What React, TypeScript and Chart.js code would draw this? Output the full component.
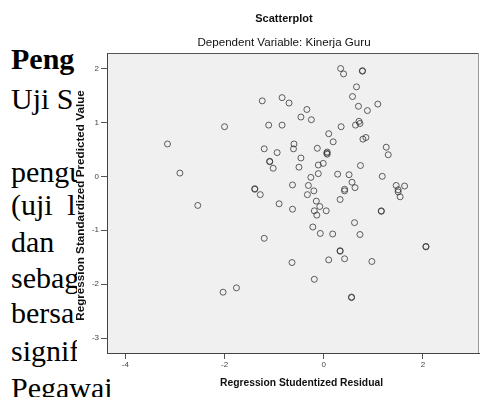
import React, { useEffect, useRef } from "react";
import { Chart, registerables } from "chart.js";

Chart.register(...registerables);

// Regression Studentized Residual (x) for each case
const residuals = [
  0.34, 0.40, 0.78, 0.78, 0.66, 0.58, -1.24, -0.84, -0.70, 0.70, 0.88, 1.09, -0.34, -0.46, -0.25,
  -2.00, -1.11, -0.84, 0.35, 0.64, 0.71, 0.73, 0.10, 0.19, 0.79, 0.85, -3.15, -2.90, -2.54, -1.20,
  -0.94, -0.60, -0.61, -0.13, 0.07, 0.07, 0.06, 1.26, 1.30, -1.09, -1.09, -1.02, -0.46, -0.50, -0.11,
  -0.01, -0.11, 0.74, -0.26, 0.28, 0.51, 0.57, 0.63, 1.18, -1.39, -1.39, -1.28, -0.63, -0.31, -0.20,
  -0.33, 0.42, 0.42, 0.33, 1.46, 1.63, 1.50, 1.50, 1.54, -0.90, -0.63, -0.15, -0.08, -0.19, -0.14,
  0.05, 1.16, 1.16, 0.62, -0.22, -0.07, 0.18, 0.73, -1.20, 0.33, 0.33, 2.06, 2.06, -0.64, 0.10,
  0.42, 0.97, -0.19, -2.03, -1.76, 0.56, 0.56,
];

// Regression Standardized Predicted Value (y) for each case
const predicted = [
  2.00, 1.90, 1.96, 1.95, 1.66, 1.48, 1.40, 1.46, 1.36, 1.30, 1.22, 1.34, 1.24, 1.10, 1.05,
  0.92, 0.95, 0.95, 0.92, 0.95, 1.02, 0.98, 0.79, 0.64, 0.69, 0.72, 0.60, 0.06, -0.54, 0.51,
  0.44, 0.60, 0.51, 0.52, 0.45, 0.41, 0.43, 0.54, 0.40, 0.28, 0.27, 0.15, 0.34, 0.17, 0.21,
  0.24, 0.05, 0.20, -0.02, 0.04, 0.03, -0.11, -0.21, 0.00, -0.23, -0.24, -0.34, -0.16, -0.17, -0.27,
  -0.34, -0.24, -0.27, -0.43, -0.17, -0.18, -0.25, -0.29, -0.38, -0.51, -0.61, -0.46, -0.56, -0.64, -0.72,
  -0.64, -0.64, -0.65, -0.86, -0.94, -1.06, -1.07, -1.08, -1.15, -1.38, -1.39, -1.30, -1.31, -1.60, -1.55,
  -1.53, -1.58, -1.91, -2.15, -2.07, -2.24, -2.25,
];

const chartTitle = "Scatterplot";
const chartSubtitle = "Dependent Variable: Kinerja Guru";
const xAxisTitle = "Regression Studentized Residual";
const yAxisTitle = "Regression Standardized Predicted Value";
const xRange = [-4.37, 3.13];
const yRange = [-3.278, 2.288];

// Surrounding document text (partly hidden behind the chart picture)
const docLines = ["Peng", "Uji S", "pengu", "(uji l", "dan", "sebag", "bersa", "signif", "Pegawai"];
const docBaselines = [69, 109, 182, 215, 251.5, 288, 323, 361, 398];

const SANS = '"Liberation Sans", Arial, sans-serif';

const paperPlugin = {
  id: "paper",
  beforeDraw(chart: any) {
    const { ctx, chartArea: a } = chart;
    ctx.save();
    ctx.fillStyle = "#ffffff";
    ctx.beginPath();
    ctx.moveTo(77, 4);
    ctx.lineTo(483, 4);
    ctx.lineTo(483, 397);
    ctx.lineTo(121, 397);
    ctx.lineTo(121, 372);
    ctx.lineTo(77, 372);
    ctx.closePath();
    ctx.fill();
    ctx.fillStyle = "#f0f0f0";
    ctx.fillRect(a.left, a.top, a.right - a.left, a.bottom - a.top);
    ctx.restore();
  },
  afterDraw(chart: any) {
    const { ctx, chartArea: a } = chart;
    ctx.save();
    ctx.strokeStyle = "#555";
    ctx.lineWidth = 1;
    ctx.beginPath();
    ctx.moveTo(a.left, a.top + 0.5);
    ctx.lineTo(a.right, a.top + 0.5);
    ctx.stroke();
    ctx.strokeStyle = "#999";
    ctx.beginPath();
    ctx.moveTo(a.right - 0.5, a.top);
    ctx.lineTo(a.right - 0.5, a.bottom);
    ctx.stroke();

    ctx.fillStyle = "#111";
    ctx.textAlign = "center";
    ctx.textBaseline = "middle";
    ctx.font = `bold 11px ${SANS}`;
    ctx.fillText(chartTitle, 284, 19);
    ctx.font = `11.6px ${SANS}`;
    ctx.fillText(chartSubtitle, 284, 43);
    ctx.font = `bold 10.3px ${SANS}`;
    ctx.fillText(xAxisTitle, 301.5, 383);
    ctx.translate(80.5, 205.5);
    ctx.rotate(-Math.PI / 2);
    ctx.font = `bold 11.7px ${SANS}`;
    ctx.fillText(yAxisTitle, 0, 0);
    ctx.restore();
  },
};

export default function App() {
  const ref = useRef<HTMLCanvasElement | null>(null);

  useEffect(() => {
    if (!ref.current) return;
    const points = residuals.map((x, i) => ({ x, y: predicted[i] }));
    const tickFont = { family: SANS, size: 8 };
    const chart = new Chart(ref.current, {
      type: "scatter",
      data: {
        datasets: [
          {
            data: points,
            pointStyle: "circle",
            pointRadius: 3,
            pointHoverRadius: 3,
            pointBorderWidth: 1,
            borderColor: "rgba(45,45,45,0.75)",
            backgroundColor: "rgba(0,0,0,0)",
          },
        ],
      },
      options: {
        responsive: false,
        maintainAspectRatio: false,
        animation: false,
        devicePixelRatio: 1,
        events: [],
        layout: { padding: { top: 53, left: 0, right: 1, bottom: 0 } },
        plugins: {
          legend: { display: false },
          tooltip: { enabled: false },
          title: { display: false },
        },
        scales: {
          x: {
            type: "linear",
            min: xRange[0],
            max: xRange[1],
            afterFit: (s: any) => {
              s.height = 44;
            },
            ticks: { stepSize: 2, includeBounds: false, font: tickFont, color: "#444", padding: 1 },
            grid: { drawOnChartArea: false, drawTicks: true, tickLength: 6, tickColor: "#555", color: "#555" },
            border: { display: true, color: "#444", width: 1 },
          },
          y: {
            type: "linear",
            min: yRange[0],
            max: yRange[1],
            afterFit: (s: any) => {
              s.width = 107;
            },
            ticks: { stepSize: 1, includeBounds: false, font: tickFont, color: "#444", padding: 2 },
            grid: { drawOnChartArea: false, drawTicks: true, tickLength: 6, tickColor: "#555", color: "#555" },
            border: { display: true, color: "#444", width: 1 },
          },
        },
      } as any,
      plugins: [paperPlugin],
    });
    return () => chart.destroy();
  }, []);

  return (
    <div
      style={{
        position: "fixed",
        left: 0,
        top: 0,
        width: 483,
        height: 397,
        overflow: "hidden",
        background: "#fff",
      }}
    >
      {docLines.map((t, i) => (
        <span
          key={i}
          style={{
            position: "absolute",
            left: 11,
            top: docBaselines[i] - 25,
            fontFamily: '"Liberation Serif", "Times New Roman", serif',
            fontSize: 30,
            lineHeight: "30px",
            fontWeight: i === 0 ? "bold" : "normal",
            whiteSpace: "pre",
            wordSpacing: i === 3 ? "7px" : "0px",
            color: "#000",
          }}
        >
          {t}
        </span>
      ))}
      <canvas
        ref={ref}
        width={483}
        height={397}
        style={{ position: "absolute", left: 0, top: 0, width: 483, height: 397 }}
      />
    </div>
  );
}
